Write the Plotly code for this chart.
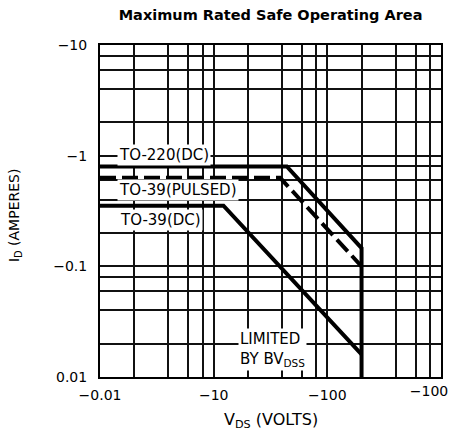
import plotly.graph_objects as go

# ---- data (magnitudes; axis labels show the negative signs) ----
to220_v = [1, 44, 200, 200]
to220_i = [0.8, 0.8, 0.146, 0.01]

to39p_v = [1, 38.5, 200]
to39p_i = [0.63, 0.63, 0.1]

to39dc_v = [1, 12.2, 200]
to39dc_i = [0.353, 0.353, 0.016]

x_tickvals = [1, 10, 100]
x_ticktext = ["\u22120.01", "\u221210", "\u2212100"]
x_end_tickval = [1000]
x_end_ticktext = ["\u2212100"]
y_tickvals = [0.01, 0.1, 1, 10]
y_ticktext = ["0.01", "\u22120.1", "\u22121", "\u221210"]

minor_x = [m * d for d in (1, 10, 100) for m in (2, 4, 6, 8)]
minor_y = [m * d for d in (0.01, 0.1, 1) for m in (2, 4, 6, 8)]

FONT = "DejaVu Sans"

fig = go.Figure()
fig.add_trace(go.Scatter(x=to220_v, y=to220_i, mode="lines",
                         line=dict(color="black", width=4), showlegend=False))
fig.add_trace(go.Scatter(x=to39p_v, y=to39p_i, mode="lines",
                         line=dict(color="black", width=4, dash="16px,6px"), showlegend=False))
fig.add_trace(go.Scatter(x=to39dc_v, y=to39dc_i, mode="lines",
                         line=dict(color="black", width=4), showlegend=False))
# empty trace so the secondary x axis (last tick label) is drawn
fig.add_trace(go.Scatter(x=[], y=[], xaxis="x2", yaxis="y", mode="lines",
                         showlegend=False, hoverinfo="skip"))

axis_common = dict(
    showline=True, linecolor="black", linewidth=2, mirror=True,
    showgrid=True, gridcolor="#111", gridwidth=1.5,
    ticks="", zeroline=False, automargin=False,
    tickfont=dict(family=FONT, size=14, color="black"),
)

fig.update_layout(
    xaxis=dict(type="log", range=[0, 3], tickmode="array",
               tickvals=x_tickvals, ticktext=x_ticktext,
               minor=dict(tickvals=minor_x, showgrid=True, gridcolor="#111", gridwidth=1.5, ticks=""),
               ticklabelstandoff=4, **axis_common),
    yaxis=dict(type="log", range=[-2, 1], tickmode="array",
               tickvals=y_tickvals, ticktext=y_ticktext,
               minor=dict(tickvals=minor_y, showgrid=True, gridcolor="#111", gridwidth=1.5, ticks=""),
               ticklabelstandoff=8, **axis_common),
    xaxis2=dict(type="log", range=[0, 3], overlaying="x", anchor="y", side="bottom",
                tickmode="array", tickvals=x_end_tickval, ticktext=x_end_ticktext,
                ticklabelshift=-12, ticklabelstandoff=4, ticks="",
                ticklabeloverflow="allow",
                showgrid=False, showline=False, zeroline=False, automargin=False,
                tickfont=dict(family=FONT, size=14, color="black")),
)

label_font = dict(family=FONT, size=15, color="black")
ann = [
    dict(x=0.15, y=0.006, text="TO-220(DC)", xanchor="left", yanchor="middle"),
    dict(x=0.15, y=-0.31, text="TO-39(PULSED)", xanchor="left", yanchor="middle"),
    dict(x=0.16, y=-0.581, text="TO-39(DC)", xanchor="left", yanchor="middle"),
    dict(x=1.214, y=-1.747, text="LIMITED<br>BY BV<sub>DSS</sub>", xanchor="left", yanchor="middle", align="left"),
]
annotations = []
for a in ann:
    a.update(xref="x", yref="y", showarrow=False, font=label_font,
             bgcolor="white", borderpad=1)
    annotations.append(a)

annotations.append(dict(xref="paper", yref="paper", x=0.5, y=-0.13,
                        text="V<sub>DS</sub> (VOLTS)", showarrow=False,
                        xanchor="center", yanchor="middle",
                        font=dict(family=FONT, size=16, color="black")))
annotations.append(dict(xref="paper", yref="paper", x=-0.249, y=0.485,
                        text="I<sub>D</sub> (AMPERES)", showarrow=False, textangle=-90,
                        xanchor="center", yanchor="middle",
                        font=dict(family=FONT, size=14, color="black")))

fig.update_layout(
    width=451, height=432,
    margin=dict(l=100, r=10, t=45, b=55),
    paper_bgcolor="white", plot_bgcolor="white",
    title=dict(text="<b>Maximum Rated Safe Operating Area</b>", x=0.6, xanchor="center",
               y=1 - 15 / 432, yanchor="middle", yref="container",
               font=dict(family=FONT, size=14.5, color="black")),
    annotations=annotations,
)

fig.write_html("out.html",
               config={"displayModeBar": False},
               post_script="document.body.style.margin='0';document.body.style.overflow='hidden';")
